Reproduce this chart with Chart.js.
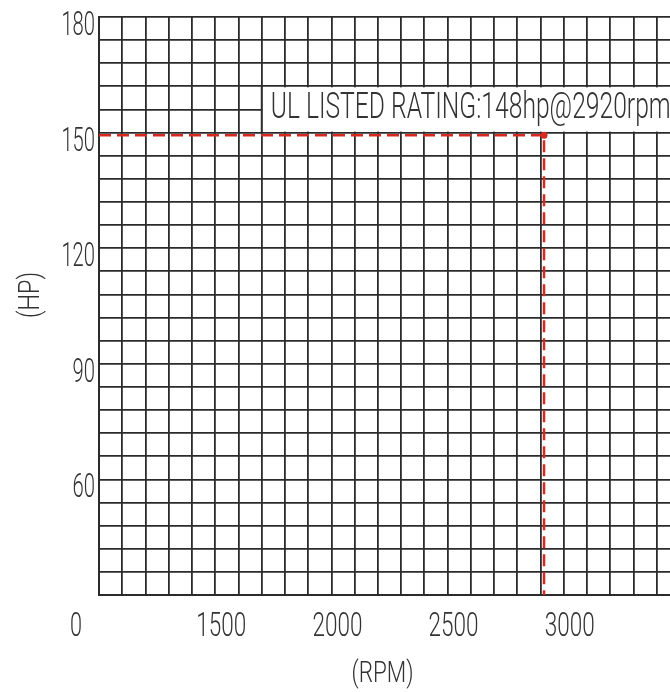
<!DOCTYPE html>
<html>
<head>
<meta charset="utf-8">
<script src="https://cdn.jsdelivr.net/npm/chart.js@4"></script>
<style>
  html, body { margin: 0; padding: 0; background: #fff; overflow: hidden; }
  #wrap { width: 681px; height: 692px; position: relative; }
</style>
</head>
<body>
<div id="wrap"><canvas id="ratingChart"></canvas></div>
<script>
// rated point leader line (rpm, hp)
const leaderRpm = [1000, 2915, 2915];
const leaderHp = [149.3, 149.3, 30];
const yTickValues = [60, 90, 120, 150, 180];
const xTickValues = [1500, 2000, 2500, 3000];
const originLabel = '0';
const ratingText = 'UL LISTED RATING:148hp@2920rpm';
const xTitle = '(RPM)';
const yTitle = '(HP)';

const INK = '#333333';
const FONT = "'Roboto', 'DejaVu Sans', sans-serif";

// draws text squeezed to a given width (the reference uses a narrow CAD font)
function squeezeText(ctx, text, x, y, size, width, align, baseline, rotate) {
  ctx.save();
  ctx.font = '300 ' + size + 'px ' + FONT;
  const w = ctx.measureText(text).width;
  ctx.translate(x, y);
  if (rotate) ctx.rotate(rotate);
  ctx.scale(width / w, 1);
  ctx.textAlign = align;
  ctx.textBaseline = baseline;
  ctx.fillStyle = INK;
  ctx.fillText(text, 0, 0);
  ctx.restore();
}

const ratingBox = {
  id: 'ratingBox',
  beforeDatasetsDraw(chart) {
    const ctx = chart.ctx;
    const x = chart.scales.x;
    const y = chart.scales.y;
    const left = x.getPixelForValue(1700);
    const top = y.getPixelForValue(162);
    const bottom = y.getPixelForValue(150);
    ctx.save();
    ctx.fillStyle = '#ffffff';
    ctx.fillRect(left + 1, top + 1, chart.width - left, bottom - top - 2);
    ctx.strokeStyle = '#2b2b2b';
    ctx.lineWidth = 1.8;
    ctx.beginPath();
    ctx.moveTo(left, top);
    ctx.lineTo(left, bottom);
    ctx.stroke();
    ctx.restore();
    squeezeText(ctx, ratingText, left + 9, bottom - 15, 36, 400, 'left', 'alphabetic');
  },
  afterDraw(chart) {
    const ctx = chart.ctx;
    const x = chart.scales.x;
    const y = chart.scales.y;
    const area = chart.chartArea;
    yTickValues.forEach((v) => {
      const s = String(v);
      squeezeText(ctx, s, area.left - 4, y.getPixelForValue(v) + 18, 33, 11.2 * s.length, 'right', 'alphabetic');
    });
    xTickValues.forEach((v) => {
      const s = String(v);
      squeezeText(ctx, s, x.getPixelForValue(v) + 6, area.bottom + 41, 33, 12.5 * s.length, 'center', 'alphabetic');
    });
    squeezeText(ctx, originLabel, area.left - 23, area.bottom + 41, 33, 12, 'center', 'alphabetic');
    squeezeText(ctx, xTitle, (area.left + 660) / 2 + 3, area.bottom + 79, 30, 62, 'center', 'middle');
    squeezeText(ctx, yTitle, 31, (area.top + area.bottom) / 2 - 11, 30, 46, 'center', 'middle', -Math.PI / 2);
  },
};

const ctx = document.getElementById('ratingChart').getContext('2d');
new Chart(ctx, {
  type: 'line',
  data: {
    datasets: [
      {
        data: leaderRpm.map((r, i) => ({ x: r, y: leaderHp[i] })),
        borderColor: '#d42a22',
        borderWidth: 2.5,
        borderDash: [12, 6],
        pointRadius: [0, 3.5, 0],
        pointBackgroundColor: '#d42a22',
        pointBorderWidth: 0,
        tension: 0,
      },
    ],
  },
  options: {
    responsive: true,
    maintainAspectRatio: false,
    animation: false,
    layout: { padding: { left: 99, top: 17, right: 1, bottom: 97 } },
    plugins: { legend: { display: false }, tooltip: { enabled: false } },
    scales: {
      x: {
        type: 'linear',
        min: 1000,
        max: 3500,
        afterFit: (s) => { s.height = 0; },
        ticks: { display: false, stepSize: 100 },
        grid: { color: '#2b2b2b', lineWidth: 1.8, drawTicks: false },
        border: { color: '#2b2b2b', width: 2 },
      },
      y: {
        min: 30,
        max: 180,
        afterFit: (s) => { s.width = 0; },
        ticks: { display: false, stepSize: 6 },
        grid: { color: '#2b2b2b', lineWidth: 1.8, drawTicks: false },
        border: { color: '#2b2b2b', width: 2 },
      },
    },
  },
  plugins: [ratingBox],
});
</script>
</body>
</html>
